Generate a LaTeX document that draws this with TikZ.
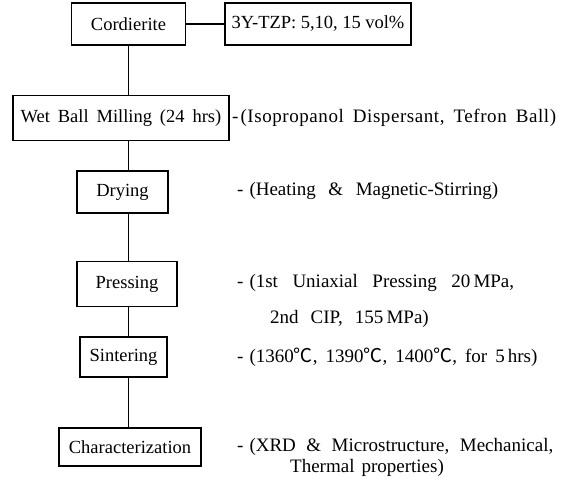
\documentclass[tikz,border=0pt]{standalone}
\usepackage{fontspec}
\setmainfont[WordSpace={1.7,1,1}]{Liberation Serif}
\newfontfamily\notewide[LetterSpace=3]{Liberation Serif}
\newfontfamily\cjk{Noto Sans CJK KR}
\newcommand\dgc{{\cjk ℃}}
\newcommand\sk[1]{\spaceskip=#1pt\relax}
\begin{document}
\begin{tikzpicture}[x=1pt,y=-1pt,
  box/.style={draw,line width=1.2pt,font=\fontsize{18.5}{21}\selectfont,inner xsep=3pt},
  note/.style={anchor=west,font=\fontsize{19}{22}\selectfont,inner sep=0pt},
  link/.style={line width=1.2pt}]
\useasboundingbox (0,0) rectangle (576,477);
\node[box,minimum width=114pt,minimum height=42pt] (cord) at (128.5,24) {Cordierite};
\node[box,minimum width=186pt,minimum height=42pt] (tzp) at (318,24) {\sk{4.5}3Y-TZP: 5,10, 15 vol\%};
\node[box,minimum width=216pt,minimum height=45pt] (wet) at (121,118) {Wet Ball Milling (24 hrs)};
\node[box,minimum width=91pt,minimum height=42pt] (dry) at (122.5,192) {Drying};
\node[box,minimum width=100pt,minimum height=45pt] (press) at (127,284) {Pressing};
\node[box,minimum width=87pt,minimum height=40pt] (sint) at (123.5,357) {Sintering};
\node[box,minimum width=142pt,minimum height=38pt] (char) at (130,447) {Characterization};
\draw[link] (cord) -- (tzp);
\draw[link] (cord.south) -- (wet.north -| cord.south);
\draw[link] (wet.south -| cord.south) -- (dry.north -| cord.south);
\draw[link] (dry.south -| cord.south) -- (press.north -| cord.south);
\draw[link] (press.south -| cord.south) -- (sint.north -| cord.south);
\draw[link] (sint.south -| cord.south) -- (char.north -| cord.south);
\node[note] (n1) at (232,118) {\notewide\sk{9}-\kern2pt(Isopropanol Dispersant, Tefron Ball)};
\node[note] (n2) at (237,191) {\sk{12.5}-\kern6pt(Heating \& Magnetic-Stirring)};
\node[note] (n3) at (237,283) {\sk{14.5}-\kern6pt(1st Uniaxial Pressing 20\,MPa,};
\node[note] (n3b) at (270,319) {\sk{12}2nd CIP, 155\,MPa)};
\node[note] (n4) at (237,357) {\sk{8}-\kern6pt(1360\dgc, 1390\dgc, 1400\dgc, for 5\,hrs)};
\node[note] (n5) at (237,447) {\sk{10.5}-\kern6pt(XRD \& Microstructure, Mechanical,};
\node[note] (n5b) at (290,468) {\sk{7}Thermal properties)};
\end{tikzpicture}
\end{document}
